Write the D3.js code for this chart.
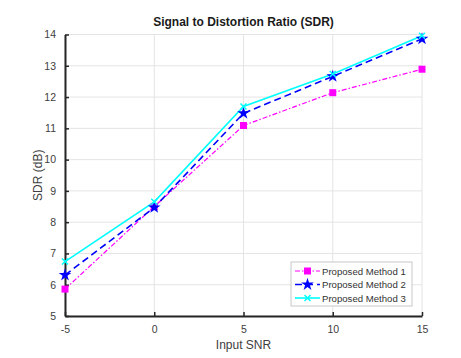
<!DOCTYPE html>
<html>
<head>
<meta charset="utf-8">
<script src="https://cdn.jsdelivr.net/npm/d3@7"></script>
<style>
body { margin: 0; background: #fff; }
text { font-family: "Liberation Sans", Arial, sans-serif; }
</style>
</head>
<body>
<script>
const w = 461
const h = 358
const margin = {top: 34.5, right: 39, bottom: 42, left: 65}

const snr = [-5, 0, 5, 10, 15]
const method1 = [5.86, 8.5, 11.09, 12.14, 12.89]
const method2 = [6.31, 8.47, 11.48, 12.66, 13.86]
const method3 = [6.74, 8.65, 11.70, 12.74, 13.96]
const seriesNames = ['Proposed Method 1', 'Proposed Method 2', 'Proposed Method 3']
const xTicks = [-5, 0, 5, 10, 15]
const yTicks = [5, 6, 7, 8, 9, 10, 11, 12, 13, 14]

const series = [
	{name: seriesNames[0], values: method1, color: '#ff00ff', dash: '5,2,1.5,2', marker: 'square', width: 1.2},
	{name: seriesNames[1], values: method2, color: '#0000ff', dash: '7,4', marker: 'star', width: 1.6},
	{name: seriesNames[2], values: method3, color: '#00ffff', dash: null, marker: 'x', width: 1.6}
]

const svg = d3.select('body')
	.append('svg')
	.attr('width', w)
	.attr('height', h)

const xScale = d3.scaleLinear()
	.domain([-5, 15])
	.range([margin.left, w - margin.right])

const yScale = d3.scaleLinear()
	.domain([5, 14])
	.range([h - margin.bottom, margin.top])

// grid
svg.append('g')
	.selectAll('line')
	.data(xTicks)
	.enter()
	.append('line')
	.attr('x1', d => xScale(d))
	.attr('x2', d => xScale(d))
	.attr('y1', yScale(5))
	.attr('y2', yScale(14))
	.attr('stroke', '#e4e4e4')
	.attr('stroke-width', 1)

svg.append('g')
	.selectAll('line')
	.data(yTicks)
	.enter()
	.append('line')
	.attr('x1', xScale(-5))
	.attr('x2', xScale(15))
	.attr('y1', d => yScale(d))
	.attr('y2', d => yScale(d))
	.attr('stroke', '#e4e4e4')
	.attr('stroke-width', 1)

// axes, ticks inward like matlab
const xAxis = d3.axisBottom(xScale)
	.tickValues(xTicks)
	.tickFormat(d => String(d))
	.tickSizeInner(-4)
	.tickSizeOuter(0)
	.tickPadding(10)

const yAxis = d3.axisLeft(yScale)
	.tickValues(yTicks)
	.tickSizeInner(-4)
	.tickSizeOuter(0)
	.tickPadding(9)

const gx = svg.append('g')
	.attr('transform', `translate(0,${yScale(5)})`)
	.call(xAxis)

const gy = svg.append('g')
	.attr('transform', `translate(${xScale(-5)},0)`)
	.call(yAxis)

for (const g of [gx, gy]) {
	g.select('.domain').attr('stroke', '#262626').attr('stroke-width', 2)
	g.selectAll('.tick line').attr('stroke', '#262626').attr('stroke-width', 1.5)
	g.selectAll('.tick text')
		.attr('fill', '#404040')
		.attr('font-size', '10.5px')
		.attr('font-family', '"Liberation Sans", Arial, sans-serif')
}

// lines
const line = d3.line()
	.x((d, i) => xScale(snr[i]))
	.y(d => yScale(d))

series.forEach(s => {
	svg.append('path')
		.attr('d', line(s.values))
		.attr('fill', 'none')
		.attr('stroke', s.color)
		.attr('stroke-width', s.width)
		.attr('stroke-dasharray', s.dash)
})

const star = d3.symbol().type(d3.symbolStar).size(50)

function drawMarker(g, type, x, y, color) {
	if (type === 'square') {
		const sz = 7
		g.append('rect')
			.attr('x', x - sz / 2)
			.attr('y', y - sz / 2)
			.attr('width', sz)
			.attr('height', sz)
			.attr('fill', color)
	} else if (type === 'star') {
		g.append('path')
			.attr('d', star())
			.attr('transform', `translate(${x},${y})`)
			.attr('fill', color)
	} else {
		const r = 3
		g.append('path')
			.attr('d', `M${x - r},${y - r}L${x + r},${y + r}M${x - r},${y + r}L${x + r},${y - r}`)
			.attr('stroke', color)
			.attr('stroke-width', 1.5)
	}
}

series.forEach(s => {
	const g = svg.append('g')
	s.values.forEach((v, i) => drawMarker(g, s.marker, xScale(snr[i]), yScale(v), s.color))
})

// title and labels
svg.append('text')
	.attr('x', (xScale(-5) + xScale(15)) / 2)
	.attr('y', 26)
	.attr('text-anchor', 'middle')
	.attr('font-size', '12px')
	.attr('font-weight', 'bold')
	.attr('fill', '#1a1a1a')
	.text('Signal to Distortion Ratio (SDR)')

svg.append('text')
	.attr('x', (xScale(-5) + xScale(15)) / 2)
	.attr('y', 349)
	.attr('text-anchor', 'middle')
	.attr('font-size', '12px')
	.attr('fill', '#404040')
	.text('Input SNR')

svg.append('text')
	.attr('transform', `translate(42,${(yScale(5) + yScale(14)) / 2}) rotate(-90)`)
	.attr('text-anchor', 'middle')
	.attr('font-size', '12px')
	.attr('fill', '#404040')
	.text('SDR (dB)')

// legend
const legend = svg.append('g').attr('transform', 'translate(291,262)')
legend.append('rect')
	.attr('width', 121)
	.attr('height', 44)
	.attr('fill', '#fff')
	.attr('stroke', '#c8c8c8')
	.attr('stroke-width', 1)

series.forEach((s, i) => {
	const y = 9 + i * 13.5
	legend.append('line')
		.attr('x1', 4)
		.attr('x2', 29)
		.attr('y1', y)
		.attr('y2', y)
		.attr('stroke', s.color)
		.attr('stroke-width', s.width)
		.attr('stroke-dasharray', s.dash)
	drawMarker(legend, s.marker, 16.5, y, s.color)
	legend.append('text')
		.attr('x', 31)
		.attr('y', y + 3.5)
		.attr('font-size', '9.6px')
		.attr('fill', '#333')
		.text(s.name)
})
</script>
</body>
</html>
